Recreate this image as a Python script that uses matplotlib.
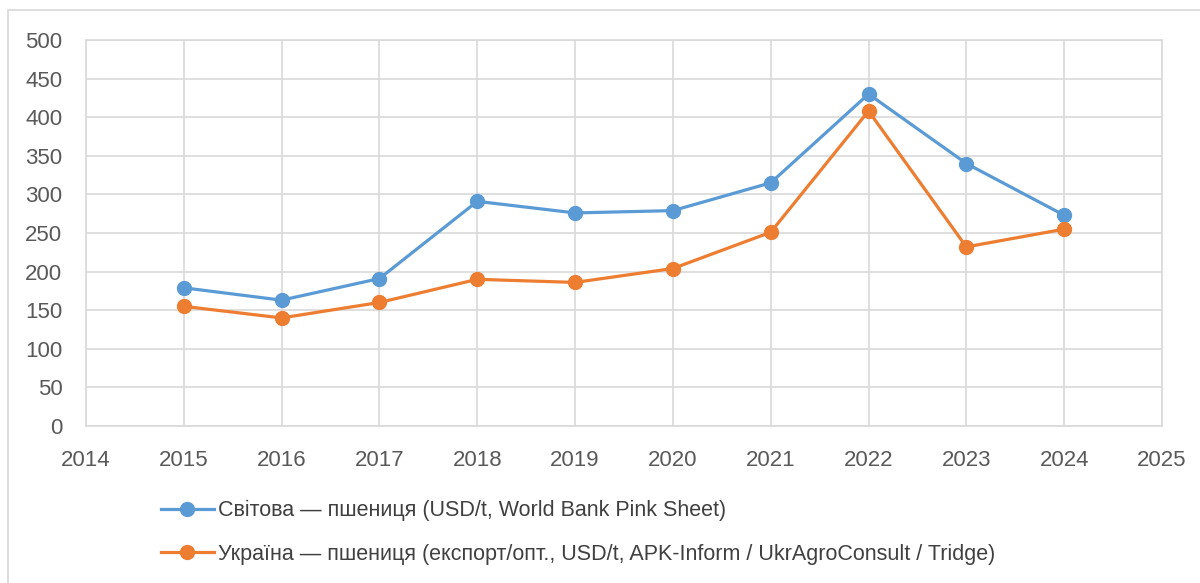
import matplotlib.pyplot as plt
from matplotlib.patches import Rectangle

years = [2015, 2016, 2017, 2018, 2019, 2020, 2021, 2022, 2023, 2024]
world = [179, 163, 191, 291, 276, 279, 315, 430, 340, 273]
ukraine = [155, 140, 160, 190, 186, 204, 251, 408, 232, 255]

label_world = "Світова — пшениця (USD/t, World Bank Pink Sheet)"
label_ukr = "Україна — пшениця (експорт/опт., USD/t, APK-Inform / UkrAgroConsult / Tridge)"

plt.rcParams['font.family'] = ['Liberation Sans', 'DejaVu Sans']

fig = plt.figure(figsize=(12, 5.83), dpi=100)
# outer chart frame (top-left corner visible only)
top = 1 - 10 / 583
fig.patches.append(Rectangle((8 / 1200, -0.05), 1.1, top + 0.05,
                             transform=fig.transFigure, fill=False,
                             edgecolor='#D9D9D9', lw=1.2))
ax = fig.add_axes([86 / 1200, 1 - 426 / 583, (1162 - 86) / 1200, (426 - 40) / 583])

ax.plot(years, world, color='#5B9BD5', lw=2.3, marker='o', ms=10, label=label_world)
ax.plot(years, ukraine, color='#ED7D31', lw=2.3, marker='o', ms=10, label=label_ukr)

ax.set_xlim(2014, 2025)
ax.set_ylim(0, 500)
ax.set_xticks(range(2014, 2026))
ax.set_yticks(range(0, 501, 50))
ax.grid(True, color='#D9D9D9', lw=1.2)
ax.set_axisbelow(True)
for s in ax.spines.values():
    s.set_color('#D9D9D9')
    s.set_linewidth(1.2)
ax.tick_params(length=0, labelsize=16, colors='#595959')
ax.tick_params(axis='y', pad=17)
ax.tick_params(axis='x', pad=17)

fig.legend(loc='upper left', bbox_to_anchor=(161 / 1200, 1 - 500 / 583), frameon=False,
           fontsize=15.5, handlelength=2.45, handletextpad=0.2, labelspacing=1.05,
           borderaxespad=0, borderpad=0, labelcolor='#404040')

fig.savefig('out.png', dpi=100)
